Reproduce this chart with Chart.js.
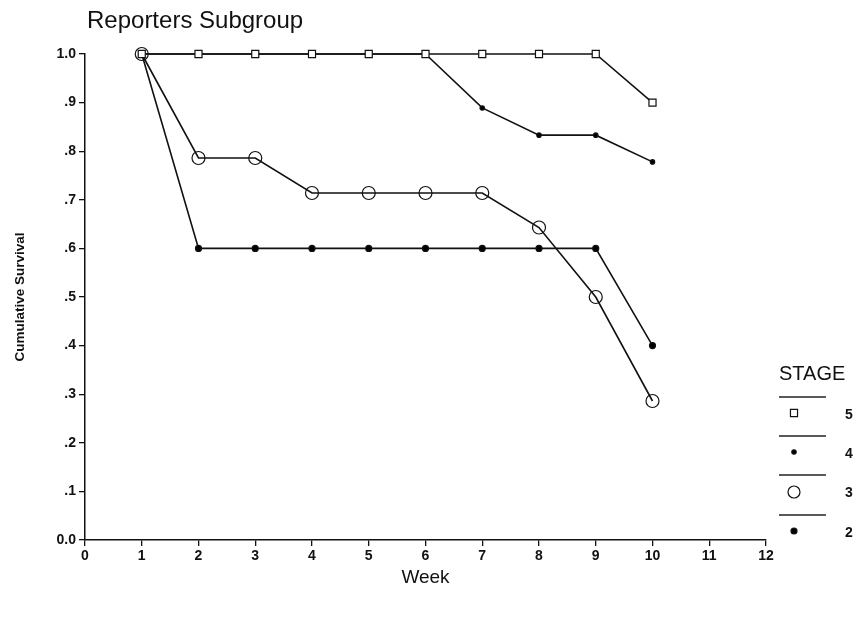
<!DOCTYPE html>
<html>
<head>
<meta charset="utf-8">
<script src="https://cdn.jsdelivr.net/npm/chart.js@4/dist/chart.umd.min.js"></script>
<style>
  html, body { margin: 0; padding: 0; background: #fff; }
  #wrap { width: 863px; height: 620px; position: relative; }
</style>
</head>
<body>
<div id="wrap"><canvas id="c" width="863" height="620"></canvas></div>
<script>
// Weeks of follow-up
const weeks = [1, 2, 3, 4, 5, 6, 7, 8, 9, 10];
// Cumulative survival per stage
const stage5 = [1.0, 1.0, 1.0, 1.0, 1.0, 1.0, 1.0, 1.0, 1.0, 0.9];
const stage4 = [1.0, 1.0, 1.0, 1.0, 1.0, 1.0, 0.889, 0.833, 0.833, 0.778];
const stage3 = [1.0, 0.786, 0.786, 0.714, 0.714, 0.714, 0.714, 0.643, 0.5, 0.286];
const stage2 = [1.0, 0.6, 0.6, 0.6, 0.6, 0.6, 0.6, 0.6, 0.6, 0.4];
const stageLabels = ['5', '4', '3', '2'];
const xTicks = [0, 1, 2, 3, 4, 5, 6, 7, 8, 9, 10, 11, 12];

const FONT = '"Liberation Sans", Arial, Helvetica, sans-serif';

function toPoints(vals) {
  return weeks.map((w, i) => ({ x: w, y: vals[i] }));
}

// Marker styles per stage (same order as stageLabels)
const markers = [
  { style: 'rect', radius: 5, fill: '#fff' },
  { style: 'circle', radius: 2.2, fill: '#000' },
  { style: 'circle', radius: 6.5, fill: 'rgba(0,0,0,0)' },
  { style: 'circle', radius: 3, fill: '#000' }
];

function ds(label, vals, m) {
  return {
    label: label,
    data: toPoints(vals),
    clip: false,
    borderColor: '#111',
    borderWidth: 1.6,
    pointStyle: m.style,
    pointRadius: m.radius,
    pointBorderWidth: 1.2,
    pointBorderColor: '#111',
    pointBackgroundColor: m.fill,
    tension: 0,
    fill: false
  };
}

// Title and STAGE key drawn onto the canvas
const decorations = {
  id: 'decorations',
  afterDraw(chart) {
    const ctx = chart.ctx;
    ctx.save();
    ctx.fillStyle = '#111';
    ctx.textAlign = 'left';
    ctx.textBaseline = 'alphabetic';
    ctx.font = '24px ' + FONT;
    ctx.fillText('Reporters Subgroup', 87, 28);

    ctx.textBaseline = 'middle';
    ctx.font = '20px ' + FONT;
    ctx.fillText('STAGE', 779, 374);

    const lineYs = [397, 436, 475, 515];
    const markYs = [413, 452, 492, 531];
    const labYs = [415, 454, 493, 533];
    for (let i = 0; i < stageLabels.length; i++) {
      ctx.strokeStyle = '#222';
      ctx.lineWidth = 1.3;
      ctx.beginPath();
      ctx.moveTo(779, lineYs[i]);
      ctx.lineTo(826, lineYs[i]);
      ctx.stroke();
      const m = markers[i];
      const r = i === 0 ? 5 : i === 2 ? 6 : m.radius;
      ctx.lineWidth = 1.2;
      ctx.fillStyle = m.fill;
      ctx.strokeStyle = '#111';
      Chart.helpers.drawPoint(ctx, { pointStyle: m.style, radius: r, rotation: 0, borderWidth: 1.2 }, 794, markYs[i]);
      ctx.fillStyle = '#111';
      ctx.font = 'bold 14px ' + FONT;
      ctx.fillText(stageLabels[i], 845, labYs[i]);
    }
    ctx.restore();
  }
};

new Chart(document.getElementById('c'), {
  type: 'line',
  data: {
    datasets: [
      ds('5', stage5, markers[0]),
      ds('4', stage4, markers[1]),
      ds('3', stage3, markers[2]),
      ds('2', stage2, markers[3])
    ]
  },
  options: {
    responsive: false,
    animation: false,
    events: [],
    layout: { padding: { top: 54, right: 97, bottom: 0, left: 0 } },
    plugins: {
      legend: { display: false },
      title: { display: false },
      tooltip: { enabled: false }
    },
    scales: {
      x: {
        type: 'linear',
        min: 0,
        max: 12,
        afterBuildTicks: s => { s.ticks = xTicks.map(v => ({ value: v })); },
        afterFit: s => { s.height = 80; },
        grid: { drawOnChartArea: false, drawTicks: true, tickLength: 6, color: '#111', lineWidth: 1.3 },
        border: { display: true, color: '#111', width: 1.5 },
        ticks: {
          color: '#111',
          padding: 2,
          maxRotation: 0,
          font: { family: FONT, size: 14, weight: 'bold' }
        },
        title: {
          display: true,
          text: 'Week',
          color: '#111',
          font: { family: FONT, size: 19 },
          padding: { top: 0, bottom: 31 }
        }
      },
      y: {
        min: 0,
        max: 1,
        afterFit: s => { s.width = 85; },
        grid: { drawOnChartArea: false, drawTicks: true, tickLength: 6, color: '#111', lineWidth: 1.3 },
        border: { display: true, color: '#111', width: 1.5 },
        ticks: {
          stepSize: 0.1,
          color: '#111',
          padding: 3,
          font: { family: FONT, size: 14, weight: 'bold' },
          callback: v => {
            const n = Math.round(v * 10);
            if (n === 10) return '1.0';
            if (n === 0) return '0.0';
            return '.' + n;
          }
        },
        title: {
          display: true,
          text: 'Cumulative Survival',
          color: '#111',
          font: { family: FONT, size: 13.5, weight: 'bold' },
          padding: { top: 12, bottom: 0 }
        }
      }
    }
  },
  plugins: [decorations]
});
</script>
</body>
</html>
